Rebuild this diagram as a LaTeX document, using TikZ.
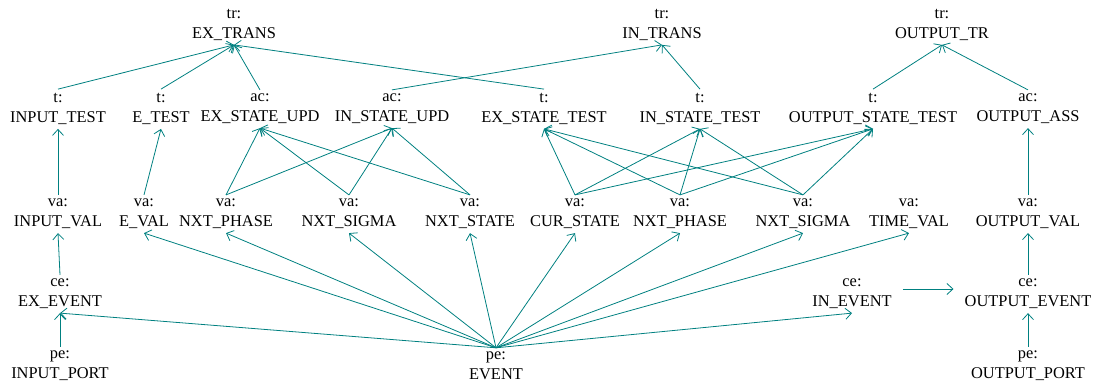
\documentclass[tikz,border=0pt]{standalone}
\usepackage{fontspec}
\setmainfont{Liberation Serif}
\usepackage{tikz}
\usetikzlibrary{arrows.meta}
\definecolor{edgeteal}{RGB}{0,128,128}

\begin{document}
\begin{tikzpicture}[x=1pt,y=-1pt,
    lbl/.style={align=center, inner sep=4pt, font=\fontsize{16.4}{20}\selectfont},
    dep/.style={draw=edgeteal, line width=0.8pt, -{Straight Barb[length=6pt,width=11pt]}}]
\useasboundingbox (0,0) rectangle (1094,387);
\node[lbl] (extrans) at (234,25) {tr:\\EX\_TRANS};
\node[lbl] (intrans) at (662,25) {tr:\\IN\_TRANS};
\node[lbl] (outtr) at (942,25) {tr:\\OUTPUT\_TR};
\node[lbl] (intest) at (58,109) {t:\\INPUT\_TEST};
\node[lbl] (etest) at (161,109) {t:\\E\_TEST};
\node[lbl] (exupd) at (260,109) {ac:\\EX\_STATE\_UPD};
\node[lbl] (inupd) at (392,109) {ac:\\IN\_STATE\_UPD};
\node[lbl] (extest) at (544,109) {t:\\EX\_STATE\_TEST};
\node[lbl] (instest) at (700,109) {t:\\IN\_STATE\_TEST};
\node[lbl] (outtest) at (873,109) {t:\\OUTPUT\_STATE\_TEST};
\node[lbl] (outass) at (1028,109) {ac:\\OUTPUT\_ASS};
\node[lbl] (inval) at (58,214) {va:\\INPUT\_VAL};
\node[lbl] (eval) at (144,214) {va:\\E\_VAL};
\node[lbl] (nphase) at (226,214) {va:\\NXT\_PHASE};
\node[lbl] (nsigma) at (349,214) {va:\\NXT\_SIGMA};
\node[lbl] (nstate) at (470,214) {va:\\NXT\_STATE};
\node[lbl] (cstate) at (575,214) {va:\\CUR\_STATE};
\node[lbl] (nphaseb) at (680,214) {va:\\NXT\_PHASE};
\node[lbl] (nsigmab) at (803,214) {va:\\NXT\_SIGMA};
\node[lbl] (timeval) at (909,214) {va:\\TIME\_VAL};
\node[lbl] (outval) at (1028,214) {va:\\OUTPUT\_VAL};
\node[lbl] (exevent) at (60,294) {ce:\\EX\_EVENT};
\node[lbl] (inevent) at (852,294) {ce:\\IN\_EVENT};
\node[lbl] (outevent) at (1028,294) {ce:\\OUTPUT\_EVENT};
\node[lbl] (inport) at (60,366) {pe:\\INPUT\_PORT};
\node[lbl] (event) at (496,366) {pe:\\EVENT};
\node[lbl] (outport) at (1028,366) {pe:\\OUTPUT\_PORT};

\draw[dep] (intest.north) -- (extrans.south);
\draw[dep] (etest.north) -- (extrans.south);
\draw[dep] (exupd.north) -- (extrans.south);
\draw[dep] (extest.north) -- (extrans.south);
\draw[dep] (inupd.north) -- (intrans.south);
\draw[dep] (instest.north) -- (intrans.south);
\draw[dep] (outtest.north) -- (outtr.south);
\draw[dep] (outass.north) -- (outtr.south);
\draw[dep] (inval.north) -- (intest.south);
\draw[dep] (eval.north) -- (etest.south);
\draw[dep] (nphase.north) -- (exupd.south);
\draw[dep] (nphase.north) -- (inupd.south);
\draw[dep] (nsigma.north) -- (exupd.south);
\draw[dep] (nsigma.north) -- (inupd.south);
\draw[dep] (nstate.north) -- (exupd.south);
\draw[dep] (nstate.north) -- (inupd.south);
\draw[dep] (cstate.north) -- (extest.south);
\draw[dep] (cstate.north) -- (instest.south);
\draw[dep] (cstate.north) -- (outtest.south);
\draw[dep] (nphaseb.north) -- (extest.south);
\draw[dep] (nphaseb.north) -- (instest.south);
\draw[dep] (nphaseb.north) -- (outtest.south);
\draw[dep] (nsigmab.north) -- (extest.south);
\draw[dep] (nsigmab.north) -- (instest.south);
\draw[dep] (nsigmab.north) -- (outtest.south);
\draw[dep] (outval.north) -- (outass.south);
\draw[dep] (exevent.north) -- (inval.south);
\draw[dep] (inport.north) -- (exevent.south);
\draw[dep] (outevent.north) -- (outval.south);
\draw[dep] (outport.north) -- (outevent.south);
\draw[dep] (event.north) -- (exevent.south);
\draw[dep] (event.north) -- (eval.south);
\draw[dep] (event.north) -- (nphase.south);
\draw[dep] (event.north) -- (nsigma.south);
\draw[dep] (event.north) -- (nstate.south);
\draw[dep] (event.north) -- (cstate.south);
\draw[dep] (event.north) -- (nphaseb.south);
\draw[dep] (event.north) -- (nsigmab.south);
\draw[dep] (event.north) -- (timeval.south);
\draw[dep] (event.north) -- (inevent.south);
\draw[dep, shorten <=7pt, shorten >=7pt] ([yshift=5pt]inevent.east) -- ([yshift=5pt]outevent.west);
\end{tikzpicture}
\end{document}
